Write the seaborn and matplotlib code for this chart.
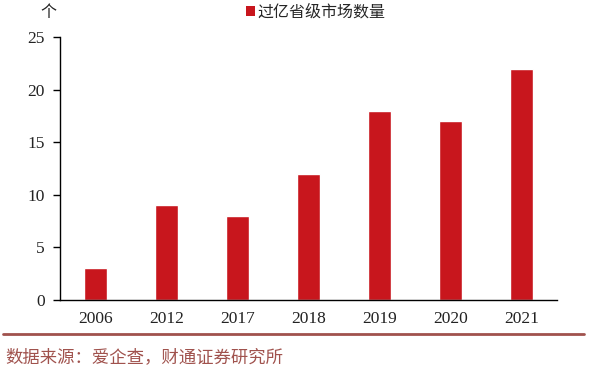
import numpy as np
import pandas as pd
import seaborn as sns
import matplotlib.pyplot as plt
from matplotlib.patches import Patch
from matplotlib.lines import Line2D

years = ['2006', '2012', '2017', '2018', '2019', '2020', '2021']
counts = [3, 9, 8, 12, 18, 17, 22]
series_name = '过亿省级市场数量'
source_text = '数据来源：爱企查，财通证券研究所'

sns.set_style('white')
plt.rcParams['font.family'] = ['Noto Sans CJK SC', 'DejaVu Sans']
num_font = 'Liberation Serif'
bar_color = '#C8161D'

df = pd.DataFrame({'year': years, 'count': counts})

fig = plt.figure(figsize=(5.9, 3.81), dpi=100, facecolor='w')
ax = fig.add_axes([0.1017, 0.2126, 0.8423, 0.6904])
sns.barplot(data=df, x='year', y='count', color=bar_color, width=0.33,
            saturation=1, ax=ax)

ax.set_xlim(-0.5, len(years) - 0.5)
ax.set_ylim(0, 25)
ax.set_yticks(np.arange(0, 26, 5))
ax.set_xlabel('')
ax.set_ylabel('')
for s in ['top', 'right']:
    ax.spines[s].set_visible(False)
for s in ['left', 'bottom']:
    ax.spines[s].set_color('black')
    ax.spines[s].set_linewidth(1)

# category boundary ticks on the x axis
ax.set_xticks(np.arange(-0.5, len(years), 1), minor=True)
ax.tick_params(axis='x', which='major', length=0, pad=8)
ax.tick_params(axis='x', which='minor', length=5, direction='out', color='black', width=1)
ax.tick_params(axis='y', length=5, direction='out', color='black', width=1, pad=6, left=True)
for lab in ax.get_xticklabels() + ax.get_yticklabels():
    lab.set_fontfamily(num_font)
    lab.set_fontsize(12.5)
    lab.set_color('#222222')

fig.text(40 / 590, 1 - 12 / 381, '个', fontsize=11.5, ha='left', va='center', color='#222222')

handles = [Patch(facecolor=bar_color, edgecolor='none', label=series_name)]
fig.legend(handles=handles, loc='center', bbox_to_anchor=(0.535, 1 - 12 / 381), frameon=False,
           fontsize=11.5, handlelength=0.6, handleheight=0.6, handletextpad=0.15)

fig.add_artist(Line2D([3 / 590, 584 / 590], [1 - 334 / 381] * 2, color='#A0524D', lw=2))
fig.text(5 / 590, 1 - 357 / 381, source_text, fontsize=12.5, ha='left', va='center', color='#A0524D')

fig.savefig('out.png', dpi=100)
